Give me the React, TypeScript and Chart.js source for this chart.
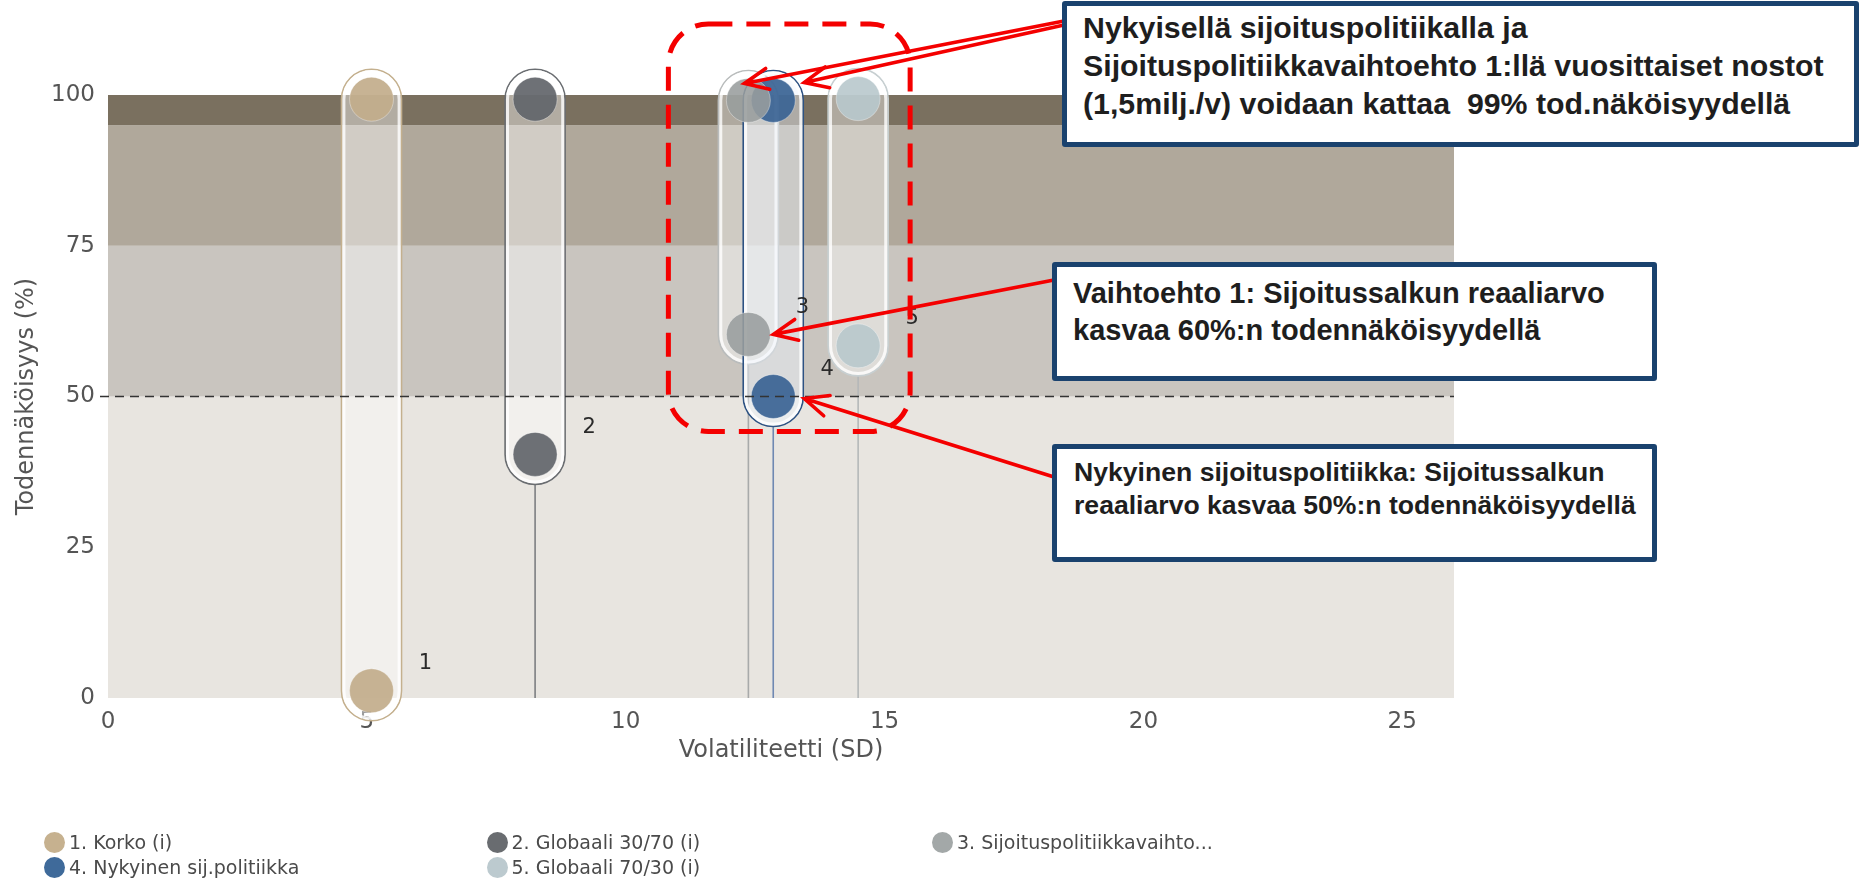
import React, { useEffect, useRef } from "react";
import { Chart, registerables } from "chart.js";

Chart.register(...registerables);

// ---------- data ----------
const seriesNames = [
  "1. Korko (i)",
  "2. Globaali 30/70 (i)",
  "3. Sijoituspolitiikkavaihto...",
  "4. Nykyinen sij.politiikka",
  "5. Globaali 70/30 (i)",
];
const pointLabels = ["1", "2", "3", "4", "5"];
const volatility = [5.09, 8.25, 12.37, 12.85, 14.49];
const highProb = [99.3, 99.3, 99.1, 99.1, 99.4];
const lowProb = [1.2, 40.4, 60.3, 50.0, 58.4];

const xTicks = [0, 5, 10, 15, 20, 25];
const yTicks = [0, 25, 50, 75, 100];
const bandEdges = [0, 50, 75, 95, 100];
const thresholdValue = 50;

// ---------- styles ----------
const circleColors = [
  "rgba(194,173,139,0.92)",
  "rgba(98,101,106,0.92)",
  "rgba(152,157,157,0.88)",
  "rgba(58,99,148,0.92)",
  "rgba(184,200,204,0.9)",
];
const legendColors = ["#c6b18f", "#696c70", "#a3a8a8", "#3f6a9a", "#bccacf"];
const capsuleEdge = ["#c4b08e", "#6a6d71", "#b9bcbc", "#2d5283", "#c7cfd1"];
const capsuleFill = [
  "rgba(255,255,255,0.42)",
  "rgba(255,255,255,0.42)",
  "rgba(255,255,255,0.40)",
  "rgba(238,244,252,0.45)",
  "rgba(255,255,255,0.40)",
];
const stemColors = ["#b9a888", "#7d7f82", "#a8aaaa", "#6f88b2", "#b4b8b9"];
const bandColors = ["#e8e5e0", "#c9c5bf", "#b0a89b", "#7a705f"];

const CAP_R = 30;
const tickFont = { family: "DejaVu Sans", size: 23 };
const RED = "#f40000";

function capsulePath(ctx: CanvasRenderingContext2D, cx: number, yTop: number, yBot: number, r: number) {
  ctx.beginPath();
  ctx.arc(cx, yTop, r, Math.PI, 0);
  ctx.lineTo(cx + r, yBot);
  ctx.arc(cx, yBot, r, 0, Math.PI);
  ctx.closePath();
}

function drawArrow(ctx: CanvasRenderingContext2D, x0: number, y0: number, x1: number, y1: number) {
  const ang = Math.atan2(y1 - y0, x1 - x0);
  const len = 26;
  const spread = 0.42;
  ctx.beginPath();
  ctx.moveTo(x0, y0);
  ctx.lineTo(x1, y1);
  ctx.moveTo(x1 - len * Math.cos(ang - spread), y1 - len * Math.sin(ang - spread));
  ctx.lineTo(x1, y1);
  ctx.lineTo(x1 - len * Math.cos(ang + spread), y1 - len * Math.sin(ang + spread));
  ctx.stroke();
}

const rangePlugin = {
  id: "rangePlugin",
  beforeDatasetsDraw(chart: any) {
    const { ctx, chartArea: a, scales } = chart;
    const px = (v: number) => scales.x.getPixelForValue(v);
    const py = (v: number) => scales.y.getPixelForValue(v);
    ctx.save();
    // bands
    for (let i = 0; i < bandColors.length; i++) {
      const y0 = py(bandEdges[i]);
      const y1 = py(bandEdges[i + 1]);
      ctx.fillStyle = bandColors[i];
      ctx.fillRect(a.left, y1, a.right - a.left, y0 - y1);
    }
    // stems
    for (let i = 0; i < volatility.length; i++) {
      const cx = px(volatility[i]);
      const yb = py(lowProb[i]) + CAP_R;
      const y0 = py(0);
      if (y0 > yb) {
        ctx.strokeStyle = stemColors[i];
        ctx.lineWidth = 1.6;
        ctx.beginPath();
        ctx.moveTo(cx, yb);
        ctx.lineTo(cx, y0);
        ctx.stroke();
      }
    }
    // capsules
    for (let i = 0; i < volatility.length; i++) {
      const cx = px(volatility[i]);
      const yt = py(highProb[i]);
      const yb = py(lowProb[i]);
      capsulePath(ctx, cx, yt, yb, CAP_R);
      ctx.fillStyle = capsuleFill[i];
      ctx.fill();
      ctx.strokeStyle = capsuleEdge[i];
      ctx.lineWidth = 1.6;
      ctx.stroke();
      capsulePath(ctx, cx, yt, yb, CAP_R - 2.4);
      ctx.strokeStyle = "rgba(255,255,255,0.8)";
      ctx.lineWidth = 3;
      ctx.stroke();
    }
    ctx.restore();
  },
  afterDatasetsDraw(chart: any) {
    const { ctx, chartArea: a, scales } = chart;
    const px = (v: number) => scales.x.getPixelForValue(v);
    const py = (v: number) => scales.y.getPixelForValue(v);
    ctx.save();
    // threshold dashed line
    ctx.setLineDash([9, 6]);
    ctx.strokeStyle = "#333";
    ctx.lineWidth = 1.5;
    ctx.beginPath();
    ctx.moveTo(a.left - 8, py(thresholdValue));
    ctx.lineTo(a.right, py(thresholdValue));
    ctx.stroke();
    ctx.setLineDash([]);
    // point labels
    ctx.fillStyle = "#2a2a2a";
    ctx.font = "21px 'DejaVu Sans'";
    ctx.textAlign = "center";
    ctx.textBaseline = "middle";
    for (let i = 0; i < volatility.length; i++) {
      ctx.fillText(pointLabels[i], px(volatility[i]) + 54, py(lowProb[i]) - 27);
    }
    // red dashed highlight box
    const left = px(volatility[2]) - 80;
    const right = px(volatility[4]) + 52;
    const top = py(100) - 71;
    const bottom = py(thresholdValue) + 35;
    ctx.strokeStyle = RED;
    ctx.lineWidth = 5;
    ctx.setLineDash([24, 14]);
    ctx.beginPath();
    (ctx as any).roundRect(left, top, right - left, bottom - top, 40);
    ctx.stroke();
    ctx.setLineDash([]);
    // arrows
    ctx.lineWidth = 3.6;
    ctx.lineCap = "round";
    drawArrow(ctx, 1064, 21, px(volatility[2]) - 4, py(highProb[2]) - 17);
    drawArrow(ctx, 1064, 25, px(volatility[3]) + 31, py(highProb[3]) - 18);
    drawArrow(ctx, 1054, 280, px(volatility[2]) + 25, py(lowProb[2]));
    drawArrow(ctx, 1054, 477, px(volatility[3]) + 31, py(lowProb[3]) + 2);
    ctx.restore();
  },
};

const boxes = [
  {
    left: 1062, top: 1, width: 797, height: 146, size: 30.3, lh: 38, pt: 3, pl: 16,
    lines: [
      "Nykyisellä sijoituspolitiikalla ja",
      "Sijoituspolitiikkavaihtoehto 1:llä vuosittaiset nostot",
      "(1,5milj./v) voidaan kattaa  99% tod.näköisyydellä",
    ],
  },
  {
    left: 1052, top: 262, width: 605, height: 119, size: 29, lh: 37, pt: 8, pl: 16,
    lines: ["Vaihtoehto 1: Sijoitussalkun reaaliarvo", "kasvaa 60%:n todennäköisyydellä"],
  },
  {
    left: 1052, top: 444, width: 605, height: 118, size: 26.6, lh: 33, pt: 7, pl: 17,
    lines: ["Nykyinen sijoituspolitiikka: Sijoitussalkun", "reaaliarvo kasvaa 50%:n todennäköisyydellä"],
  },
];

const legendPos = [
  { cx: 54.5, cy: 842 },
  { cx: 497, cy: 842 },
  { cx: 942.5, cy: 842 },
  { cx: 54.5, cy: 867 },
  { cx: 497, cy: 867 },
];

export default function App() {
  const ref = useRef<HTMLCanvasElement | null>(null);
  useEffect(() => {
    if (!ref.current) return;
    const datasets = volatility.map((v, i) => ({
      label: seriesNames[i],
      data: [
        { x: v, y: highProb[i] },
        { x: v, y: lowProb[i] },
      ],
      pointRadius: 22,
      pointHoverRadius: 22,
      pointBackgroundColor: circleColors[i],
      pointBorderColor: "rgba(255,255,255,0.35)",
      pointBorderWidth: 1,
      showLine: false,
      clip: false as any,
    }));
    const chart = new Chart(ref.current, {
      type: "scatter",
      data: { datasets },
      options: {
        animation: false,
        responsive: false,
        devicePixelRatio: 1,
        events: [],
        layout: { padding: { top: 95, right: 405, bottom: 103, left: 0 } },
        plugins: { legend: { display: false }, tooltip: { enabled: false } },
        scales: {
          x: {
            type: "linear",
            min: 0,
            max: 26,
            afterBuildTicks: (s: any) => {
              s.ticks = xTicks.map((v) => ({ value: v }));
            },
            afterFit: (s: any) => {
              s.height = 80;
            },
            grid: { display: false, drawTicks: false },
            border: { display: false },
            ticks: { padding: 10, color: "#555", font: tickFont },
            title: {
              display: true,
              text: "Volatiliteetti (SD)",
              color: "#555",
              font: { family: "DejaVu Sans", size: 24 },
              padding: { top: 0, bottom: 13 },
            },
          },
          y: {
            type: "linear",
            min: 0,
            max: 100,
            afterBuildTicks: (s: any) => {
              s.ticks = yTicks.map((v) => ({ value: v }));
            },
            afterFit: (s: any) => {
              s.width = 108;
            },
            grid: { display: false, drawTicks: false },
            border: { display: false },
            ticks: { padding: 13, color: "#555", font: tickFont },
            title: {
              display: true,
              text: "Todennäköisyys (%)",
              color: "#555",
              font: { family: "DejaVu Sans", size: 24 },
              padding: { top: 12, bottom: 0 },
            },
          },
        },
      },
      plugins: [rangePlugin],
    });
    return () => chart.destroy();
  }, []);

  return (
    <div style={{ position: "absolute", left: 0, top: 0, width: 1859, height: 881, background: "#fff", overflow: "hidden" }}>
      <canvas ref={ref} width={1859} height={881} style={{ position: "absolute", left: 0, top: 0, width: 1859, height: 881 }} />
      {boxes.map((b, i) => (
        <div
          key={i}
          style={{
            position: "absolute",
            left: b.left,
            top: b.top,
            width: b.width,
            height: b.height,
            boxSizing: "border-box",
            border: "5.5px solid #1a426e",
            borderRadius: 3,
            background: "#fff",
            paddingTop: b.pt,
            paddingLeft: b.pl,
            fontFamily: "'Liberation Sans', Arial, sans-serif",
            fontWeight: 700,
            fontSize: b.size,
            lineHeight: b.lh + "px",
            color: "#1e1e1e",
            whiteSpace: "pre",
          }}
        >
          {b.lines.map((l, j) => (
            <div key={j}>{l}</div>
          ))}
        </div>
      ))}
      {seriesNames.map((n, i) => (
        <div
          key={n}
          style={{
            position: "absolute",
            left: legendPos[i].cx - 10.5,
            top: legendPos[i].cy - 11,
            height: 22,
            display: "flex",
            alignItems: "center",
            fontFamily: "'DejaVu Sans', sans-serif",
            fontSize: 19,
            color: "#4a4a4a",
            whiteSpace: "nowrap",
          }}
        >
          <span style={{ display: "inline-block", width: 21, height: 21, borderRadius: "50%", background: legendColors[i], marginRight: 4 }} />
          <span>{n}</span>
        </div>
      ))}
    </div>
  );
}
